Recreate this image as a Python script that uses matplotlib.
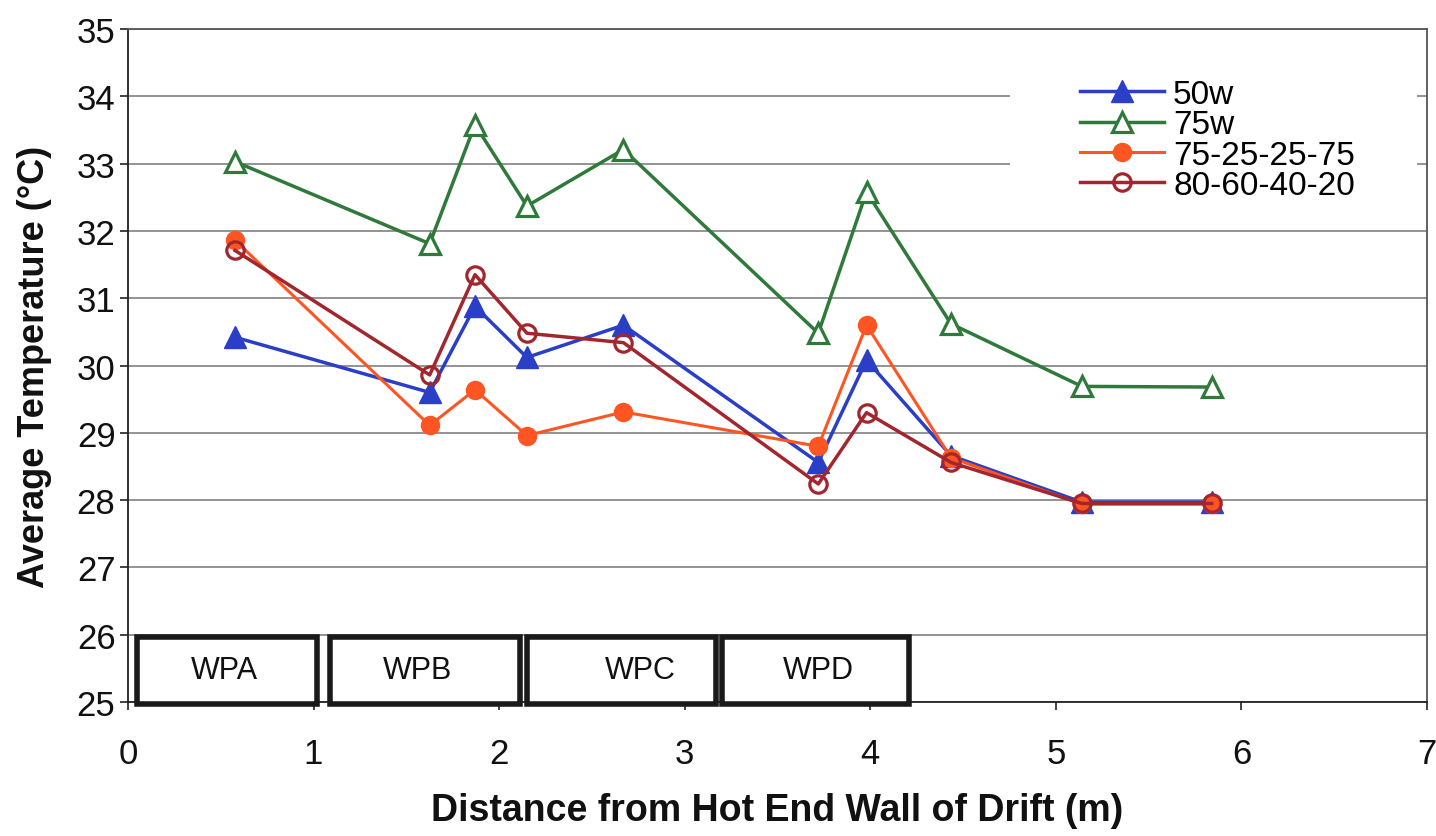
import matplotlib
matplotlib.use('Agg')
import matplotlib.pyplot as plt
from matplotlib.patches import Rectangle

plt.rcParams['font.family'] = ['Liberation Sans', 'DejaVu Sans']

# sensor positions along the drift (m)
distance = [0.577, 1.626, 1.87, 2.15, 2.67, 3.72, 3.98, 4.435, 5.14, 5.84]

temp_50w = [30.42, 29.60, 30.88, 30.12, 30.60, 28.56, 30.08, 28.66, 27.97, 27.97]
temp_75w = [33.03, 31.81, 33.58, 32.37, 33.21, 30.48, 32.58, 30.62, 29.69, 29.68]
temp_75_25 = [31.86, 29.11, 29.64, 28.96, 29.31, 28.80, 30.60, 28.63, 27.94, 27.94]
temp_80_60 = [31.71, 29.86, 31.35, 30.48, 30.34, 28.24, 29.30, 28.56, 27.95, 27.95]

# waste package footprints (m) and labels
box_labels = ['WPA', 'WPB', 'WPC', 'WPD']
box_left = [0.05, 1.09, 2.15, 3.20]
box_right = [1.02, 2.11, 3.17, 4.21]
box_text_x = [0.52, 1.56, 2.76, 3.72]


def plotDrift(output='out.png'):
	fig = plt.figure(figsize=(14.36, 8.37), dpi=100)
	ax = fig.add_axes([0.0891, 0.1601, 0.9046, 0.804])

	lw = 2.5
	ax.plot(distance, temp_50w, color='#2a3ec8', lw=lw, marker='^', ms=16,
			mfc='#2a3ec8', mec='#2a3ec8', label='50w', zorder=3)
	ax.plot(distance, temp_75w, color='#2f7a3b', lw=lw, marker='^', ms=15,
			mfc='white', mec='#2f7a3b', mew=2.3, label='75w', zorder=3)
	ax.plot(distance, temp_75_25, color='#ff5522', lw=2.2, marker='o', ms=13,
			mfc='#ff5522', mec='#ff5522', label='75-25-25-75', zorder=3)
	ax.plot(distance, temp_80_60, color='#a3262e', lw=lw, marker='o', ms=12.5,
			mfc='none', mec='#a3262e', mew=2.3, label='80-60-40-20', zorder=3)

	ax.set_xlim(0, 7)
	ax.set_ylim(25, 35)
	ax.set_xticks(range(0, 8))
	ax.set_yticks(range(25, 36))

	ax.set_axisbelow(True)
	ax.yaxis.grid(True, color='#8a8a8a', lw=1.3)
	ax.xaxis.grid(False)

	for side in ['top', 'right']:
		ax.spines[side].set_color('#555555')
		ax.spines[side].set_linewidth(1.3)
	for side in ['left', 'bottom']:
		ax.spines[side].set_color('#222222')
		ax.spines[side].set_linewidth(1.3)

	ax.tick_params(axis='both', direction='out', length=6, width=1.2, color='#222222',
				   labelsize=25, labelcolor='#111111')
	ax.tick_params(axis='x', pad=19)
	ax.tick_params(axis='y', pad=3)

	ax.set_xlabel('Distance from Hot End Wall of Drift (m)', fontsize=27,
				  fontweight='bold', labelpad=16, color='#111111')
	ax.set_ylabel('Average Temperature (\u00b0C)', fontsize=26,
				  fontweight='bold', labelpad=18, color='#111111')

	# package boxes along the floor of the drift
	for lab, x0, x1, xt in zip(box_labels, box_left, box_right, box_text_x):
		ax.add_patch(Rectangle((x0, 24.97), x1 - x0, 1.0, facecolor='white',
							   edgecolor='#1a1a1a', lw=4, zorder=6, clip_on=False))
		ax.text(xt, 25.48, lab, fontsize=22, ha='center', va='center',
				color='#111111', zorder=7)

	# white panel behind legend hides gridlines
	ax.add_patch(Rectangle((0.679, 0.73), 0.313, 0.265, transform=ax.transAxes,
						   facecolor='white', edgecolor='none', zorder=0.8))
	ax.legend(loc='upper left', bbox_to_anchor=(0.733, 0.9257), frameon=False,
			  fontsize=24, handlelength=2.52, handletextpad=0.27,
			  labelspacing=-0.02, borderpad=0, borderaxespad=0)

	fig.savefig(output, dpi=100)
	plt.close(fig)


if __name__ == '__main__':
	plotDrift()
